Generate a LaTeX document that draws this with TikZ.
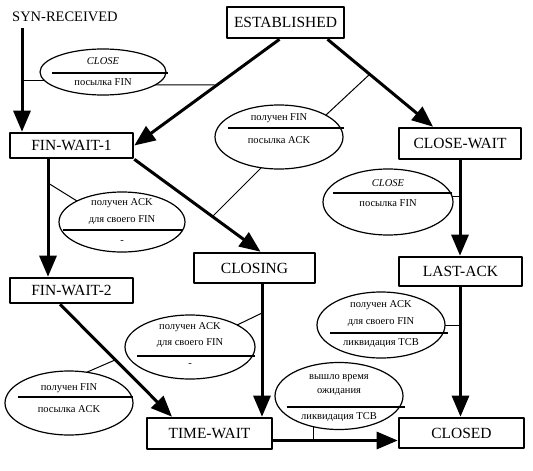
\documentclass[tikz,border=0pt]{standalone}
\usepackage{fontspec}
\setmainfont{Liberation Serif}
\usetikzlibrary{arrows.meta,shapes.geometric}
\begin{document}
\begin{tikzpicture}[x=1pt,y=-1pt,>={Triangle[length=21pt,width=17pt]},line join=bevel,
  state/.style={draw,rectangle,line width=2.6pt,inner sep=0pt,font=\fontsize{15.5}{17}\selectfont},
  trans/.style={->,line width=3pt},
  cond/.style={draw,ellipse,line width=1.2pt,inner sep=0pt,outer sep=0pt},
  rule/.style={line width=1.6pt},
  link/.style={line width=1pt},
  lbl/.style={inner sep=0pt,font=\fontsize{10.5}{12}\selectfont}]
\useasboundingbox (0,0) rectangle (533,471);
%%
  % Node: SYN-RECEIVED
  \node [anchor=west,inner sep=0pt,font=\fontsize{14.5}{16}\selectfont] (syn) at (12,17) {SYN-RECEIVED};
  % Node: ESTABLISHED
  \node [state,minimum width=117pt,minimum height=31pt] (est) at (285.5,22.5) {ESTABLISHED};
  % Node: FIN-WAIT-1
  \node [state,minimum width=123pt,minimum height=25pt] (fw1) at (71.5,145.5) {FIN-WAIT-1};
  % Node: CLOSE-WAIT
  \node [state,minimum width=122pt,minimum height=31pt] (cw) at (460,143.5) {CLOSE-WAIT};
  % Node: FIN-WAIT-2
  \node [state,minimum width=123pt,minimum height=25pt] (fw2) at (71.5,290.5) {FIN-WAIT-2};
  % Node: CLOSING
  \node [state,minimum width=121pt,minimum height=30pt] (closing) at (254.5,268) {CLOSING};
  % Node: LAST-ACK
  \node [state,minimum width=123pt,minimum height=29pt] (lastack) at (460.5,271.5) {LAST-ACK};
  % Node: TIME-WAIT
  \node [state,minimum width=125pt,minimum height=31pt] (tw) at (209.5,433.5) {TIME-WAIT};
  % Node: CLOSED
  \node [state,minimum width=125pt,minimum height=30pt] (closed) at (461.5,433) {CLOSED};
%
  \coordinate (synout) at ([xshift=10pt,yshift=-6pt]syn.south west);
  \coordinate (twout) at ([yshift=-7pt]tw.east);
  % Edge: SYN-RECEIVED -> FIN-WAIT-1
  \draw [trans] (synout) -- (synout |- fw1.north);
  % Edge: ESTABLISHED -> FIN-WAIT-1
  \draw [trans] ([xshift=-6pt]est.south) -- (fw1.east);
  % Edge: ESTABLISHED -> CLOSE-WAIT
  \draw [trans] ([xshift=42pt]est.south) -- ([xshift=-27pt]cw.north);
  % Edge: FIN-WAIT-1 -> FIN-WAIT-2
  \draw [trans] ([xshift=-23.5pt]fw1.south) -- ([xshift=-23.5pt]fw2.north);
  % Edge: FIN-WAIT-1 -> CLOSING
  \draw [trans] (fw1.south east) -- ([xshift=6pt]closing.north);
  % Edge: CLOSE-WAIT -> LAST-ACK
  \draw [trans] (cw.south) -- (cw.south |- lastack.north);
  % Edge: FIN-WAIT-2 -> TIME-WAIT
  \draw [trans] ([xshift=-11.5pt]fw2.south) -- ([xshift=-37.5pt]tw.north);
  % Edge: CLOSING -> TIME-WAIT
  \draw [trans] ([xshift=7.5pt]closing.south) -- ([xshift=7.5pt]closing.south |- tw.north);
  % Edge: LAST-ACK -> CLOSED
  \draw [trans] (lastack.south) -- (lastack.south |- closed.north);
  % Edge: TIME-WAIT -> CLOSED
  \draw [trans] (twout) -- (twout -| closed.west);
%
  % Cond: CLOSE / FIN (active close)
  \node [cond,minimum width=126pt,minimum height=46pt] (e1) at (103,72) {};
  \node [lbl] (e1a) at ([yshift=11pt]e1.center) {\textit{CLOSE}};
  \node [lbl] (e1b) at ([yshift=-10pt]e1.center) {посылка FIN};
  \draw [rule] ([xshift=-51pt,yshift=-1pt]e1.center) -- ([xshift=65pt,yshift=-1pt]e1.center);
  \coordinate (j1) at (216,85);
  \draw [link] (e1.188) -- (e1.188 -| synout);
  \draw [link] (e1.346) -- (j1);
  % Cond: FIN / ACK (upper)
  \node [cond,minimum width=128pt,minimum height=64pt] (e2) at (279,137) {};
  \node [lbl] (e2a) at ([yshift=19pt]e2.center) {получен FIN};
  \node [lbl] (e2b) at ([yshift=-3pt]e2.center) {посылка ACK};
  \draw [rule] ([xshift=-51pt,yshift=9pt]e2.center) -- ([xshift=65pt,yshift=9pt]e2.center);
  \coordinate (j2a) at (370,74);
  \coordinate (j2b) at (212,217);
  \draw [link] (e2.25) -- (j2a);
  \draw [link] (e2.240) -- (j2b);
  % Cond: CLOSE / FIN (passive close)
  \node [cond,minimum width=130pt,minimum height=66pt] (e3) at (388,202) {};
  \node [lbl] (e3a) at ([yshift=19pt]e3.center) {\textit{CLOSE}};
  \node [lbl] (e3b) at ([yshift=-1pt]e3.center) {посылка FIN};
  \draw [rule] ([xshift=-55pt,yshift=9pt]e3.center) -- ([xshift=64pt,yshift=9pt]e3.center);
  \draw [link] (e3.5) -- (e3.5 -| cw.south);
  % Cond: ACK / - (FIN-WAIT-1)
  \node [cond,minimum width=126pt,minimum height=60pt] (e4) at (122,222) {};
  \node [lbl] (e4a) at ([yshift=19pt]e4.center) {получен ACK};
  \node [lbl] (e4b) at ([yshift=2pt]e4.center) {для своего FIN};
  \node [lbl] (e4c) at ([yshift=-20pt]e4.center) {-};
  \draw [rule] ([xshift=-59pt,yshift=-8pt]e4.center) -- ([xshift=61pt,yshift=-8pt]e4.center);
  \coordinate (j4) at (48,183);
  \draw [link] (e4.155) -- (j4);
  % Cond: ACK / - (CLOSING)
  \node [cond,minimum width=130pt,minimum height=64pt] (e5) at (190,347) {};
  \node [lbl] (e5a) at ([yshift=20pt]e5.center) {получен ACK};
  \node [lbl] (e5b) at ([yshift=4pt]e5.center) {для своего FIN};
  \node [lbl] (e5c) at ([yshift=-18pt]e5.center) {-};
  \draw [rule] ([xshift=-53pt,yshift=-9pt]e5.center) -- ([xshift=65pt,yshift=-9pt]e5.center);
  \coordinate (j5) at (262,313);
  \draw [link] (e5.25) -- (j5);
  % Cond: FIN / ACK (lower)
  \node [cond,minimum width=128pt,minimum height=64pt] (e6) at (69,403) {};
  \node [lbl] (e6a) at ([yshift=15pt]e6.center) {получен FIN};
  \node [lbl] (e6b) at ([yshift=-6pt]e6.center) {посылка ACK};
  \draw [rule] ([xshift=-51pt,yshift=6pt]e6.center) -- ([xshift=64pt,yshift=6pt]e6.center);
  \coordinate (j6) at (115,360);
  \draw [link] (e6.60) -- (j6);
  % Cond: ACK / TCB (LAST-ACK)
  \node [cond,minimum width=128pt,minimum height=66pt] (e7) at (381,325) {};
  \node [lbl] (e7a) at ([yshift=20pt]e7.center) {получен ACK};
  \node [lbl] (e7b) at ([yshift=3pt]e7.center) {для своего FIN};
  \node [lbl] (e7c) at ([yshift=-18pt]e7.center) {ликвидация TCB};
  \draw [rule] ([xshift=-51pt,yshift=-8pt]e7.center) -- ([xshift=67pt,yshift=-8pt]e7.center);
  \draw [link] (e7.east) -- (e7.east -| lastack.south);
  % Cond: timeout / TCB (TIME-WAIT)
  \node [cond,minimum width=128pt,minimum height=67pt] (e8) at (339,396) {};
  \node [lbl] (e8a) at ([yshift=18pt]e8.center) {вышло время};
  \node [lbl] (e8b) at ([yshift=4pt]e8.center) {ожидания};
  \node [lbl] (e8c) at ([yshift=-21pt]e8.center) {ликвидация TCB};
  \draw [rule] ([xshift=-52pt,yshift=-11pt]e8.center) -- ([xshift=66pt,yshift=-11pt]e8.center);
  \draw [link] (e8.230) -- (e8.230 |- twout);
%
\end{tikzpicture}
\end{document}
